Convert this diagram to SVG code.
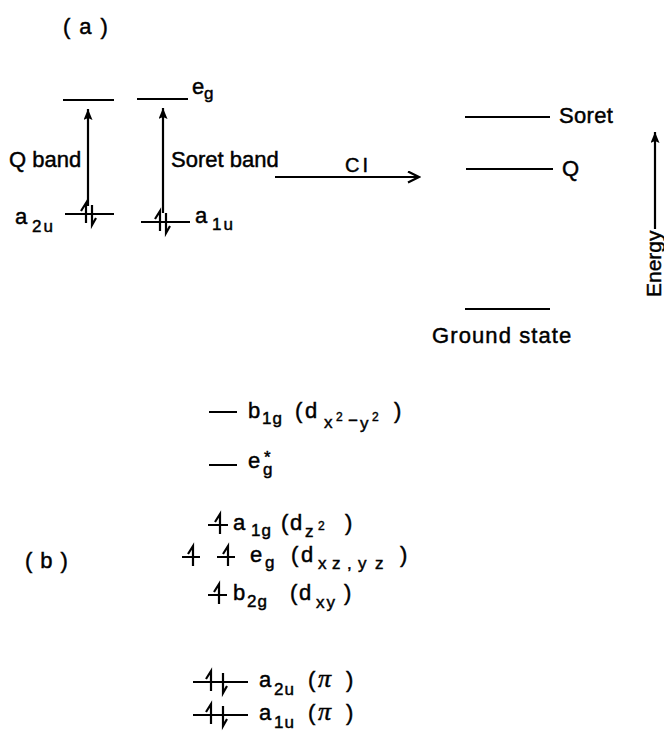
<svg xmlns="http://www.w3.org/2000/svg" width="664" height="733" viewBox="0 0 664 733">
<defs>
<style>
text{font-family:"Liberation Sans","Arial",sans-serif;fill:#000;stroke:#000;stroke-width:0.45px;font-size:22px}
.s{font-size:17px}
.ss{font-size:12px}
.pi{font-family:"Liberation Serif",serif;font-style:italic;font-size:26px}
.lv{stroke:#000;stroke-width:2;fill:none}
.ar{stroke:#000;stroke-width:2.2;fill:none}
.el{stroke:#000;stroke-width:2.2;fill:none;stroke-linejoin:miter}
</style>
<marker id="solid" markerUnits="userSpaceOnUse" markerWidth="12" markerHeight="10" refX="11" refY="4.5" orient="auto">
<path d="M0,0 L11,4.5 L0,9 L2,4.5 z" fill="#000"/>
</marker>
<marker id="open" markerUnits="userSpaceOnUse" markerWidth="14" markerHeight="14" refX="12" refY="6" orient="auto">
<path d="M1,0.5 L12,6 L1,11.5" fill="none" stroke="#000" stroke-width="2.2"/>
</marker>
<path id="up" d="M0,9 V-11 L-5,-3" class="el"/>
<path id="dn" d="M0,-9 V11 L4,4" class="el"/>
</defs>

<g id="label-a"><text x="63" y="34" style="letter-spacing:9px">(a)</text></g>

<g id="eg-left"><line class="lv" x1="63" y1="100" x2="114" y2="100"/></g>
<g id="eg-right"><line class="lv" x1="137" y1="99" x2="188" y2="99"/>
<text x="192" y="94">e<tspan class="s" x="204" y="99">g</tspan></text></g>

<g id="a2u-a"><line class="lv" x1="65" y1="214" x2="114" y2="214"/>
<use href="#up" x="86" y="214"/><use href="#dn" x="92" y="214"/>
<text x="15" y="224">a<tspan class="s" x="32" y="232" style="letter-spacing:2px">2u</tspan></text></g>

<g id="a1u-a"><line class="lv" x1="141" y1="222" x2="190" y2="222"/>
<use href="#up" x="160" y="222"/><use href="#dn" x="166" y="222"/>
<text x="195" y="223">a<tspan class="s" x="212" y="230" style="letter-spacing:2px">1u</tspan></text></g>

<g id="qband-label"><text x="9" y="167">Q band</text></g>
<g id="soretband-label"><text x="171" y="167">Soret band</text></g>

<g id="soret-state"><line class="lv" x1="465" y1="117" x2="550" y2="117"/>
<text x="559" y="123" style="letter-spacing:0.3px">Soret</text></g>
<g id="q-state"><line class="lv" x1="466" y1="169" x2="553" y2="169"/>
<text x="562" y="176">Q</text></g>
<g id="ground-state"><line class="lv" x1="465" y1="309" x2="550" y2="309"/>
<text x="432" y="343" style="letter-spacing:1.1px">Ground state</text></g>

<g id="energy-axis"><text transform="translate(661,297) rotate(-90)" style="font-size:21px">Energy</text></g>

<g id="ci-label"><text x="345" y="172" style="font-size:20px;letter-spacing:3px">CI</text></g>

<g id="connectors">
<line class="ar" x1="88" y1="206" x2="88" y2="109" marker-end="url(#solid)"/>
<line class="ar" x1="163" y1="213" x2="163" y2="108" marker-end="url(#solid)"/>
<line class="ar" x1="275" y1="177" x2="419" y2="177" marker-end="url(#open)"/>
<line class="ar" x1="655" y1="229" x2="655" y2="132" marker-end="url(#solid)"/>
</g>

<g id="label-b"><text x="25" y="568" style="letter-spacing:8px">(b)</text></g>

<g id="b1g"><line class="lv" x1="209" y1="412" x2="237" y2="412"/>
<text x="248" y="418">b<tspan class="s" x="262" y="424" style="letter-spacing:1px">1g</tspan><tspan x="295" y="418">(</tspan><tspan x="305" y="418">d</tspan><tspan class="s" x="324" y="428">x</tspan><tspan class="ss" x="336" y="421">2</tspan><tspan class="s" x="348" y="426">−</tspan><tspan class="s" x="360" y="429">y</tspan><tspan class="ss" x="372" y="421">2</tspan><tspan x="394" y="418">)</tspan></text></g>

<g id="eg-star"><line class="lv" x1="209" y1="465" x2="237" y2="465"/>
<text x="248" y="468">e<tspan class="s" x="264" y="463">*</tspan><tspan class="s" x="263" y="475">g</tspan></text></g>

<g id="a1g"><line class="lv" x1="208" y1="525" x2="228" y2="525"/>
<use href="#up" x="220" y="525"/>
<text x="233" y="530">a<tspan class="s" x="251" y="536" style="letter-spacing:1px">1g</tspan><tspan x="281" y="530">(</tspan><tspan x="290" y="530">d</tspan><tspan class="s" x="305" y="537">z</tspan><tspan class="ss" x="318" y="530">2</tspan><tspan x="345" y="530">)</tspan></text></g>

<g id="eg-d"><line class="lv" x1="182" y1="557" x2="200" y2="557"/>
<use href="#up" x="193" y="557"/>
<line class="lv" x1="217" y1="557" x2="235" y2="557"/>
<use href="#up" x="228" y="557"/>
<text x="250" y="562">e<tspan class="s" x="265" y="568">g</tspan><tspan x="291" y="562">(</tspan><tspan x="301" y="562">d</tspan><tspan class="s" x="318" y="569">x</tspan><tspan class="s" x="332" y="569">z</tspan><tspan class="s" x="347" y="569">,</tspan><tspan class="s" x="358" y="569">y</tspan><tspan class="s" x="375" y="569">z</tspan><tspan x="400" y="562">)</tspan></text></g>

<g id="b2g"><line class="lv" x1="208" y1="595" x2="227" y2="595"/>
<use href="#up" x="219" y="595"/>
<text x="233" y="600">b<tspan class="s" x="247" y="607" style="letter-spacing:1px">2g</tspan><tspan x="290" y="600">(</tspan><tspan x="299" y="600">d</tspan><tspan class="s" x="316" y="608" style="letter-spacing:2px">xy</tspan><tspan x="344" y="600">)</tspan></text></g>

<g id="a2u-pi"><line class="lv" x1="193" y1="682" x2="248" y2="682"/>
<use href="#up" x="211" y="682"/><use href="#dn" x="223" y="682"/>
<text x="259" y="687">a<tspan class="s" x="274" y="695" style="letter-spacing:1px">2u</tspan><tspan x="308" y="687">(</tspan><tspan class="pi" x="318" y="687">π</tspan><tspan x="346" y="687">)</tspan></text></g>

<g id="a1u-pi"><line class="lv" x1="193" y1="715" x2="248" y2="715"/>
<use href="#up" x="211" y="715"/><use href="#dn" x="223" y="715"/>
<text x="259" y="720">a<tspan class="s" x="274" y="728" style="letter-spacing:1px">1u</tspan><tspan x="308" y="720">(</tspan><tspan class="pi" x="318" y="720">π</tspan><tspan x="346" y="720">)</tspan></text></g>
</svg>
